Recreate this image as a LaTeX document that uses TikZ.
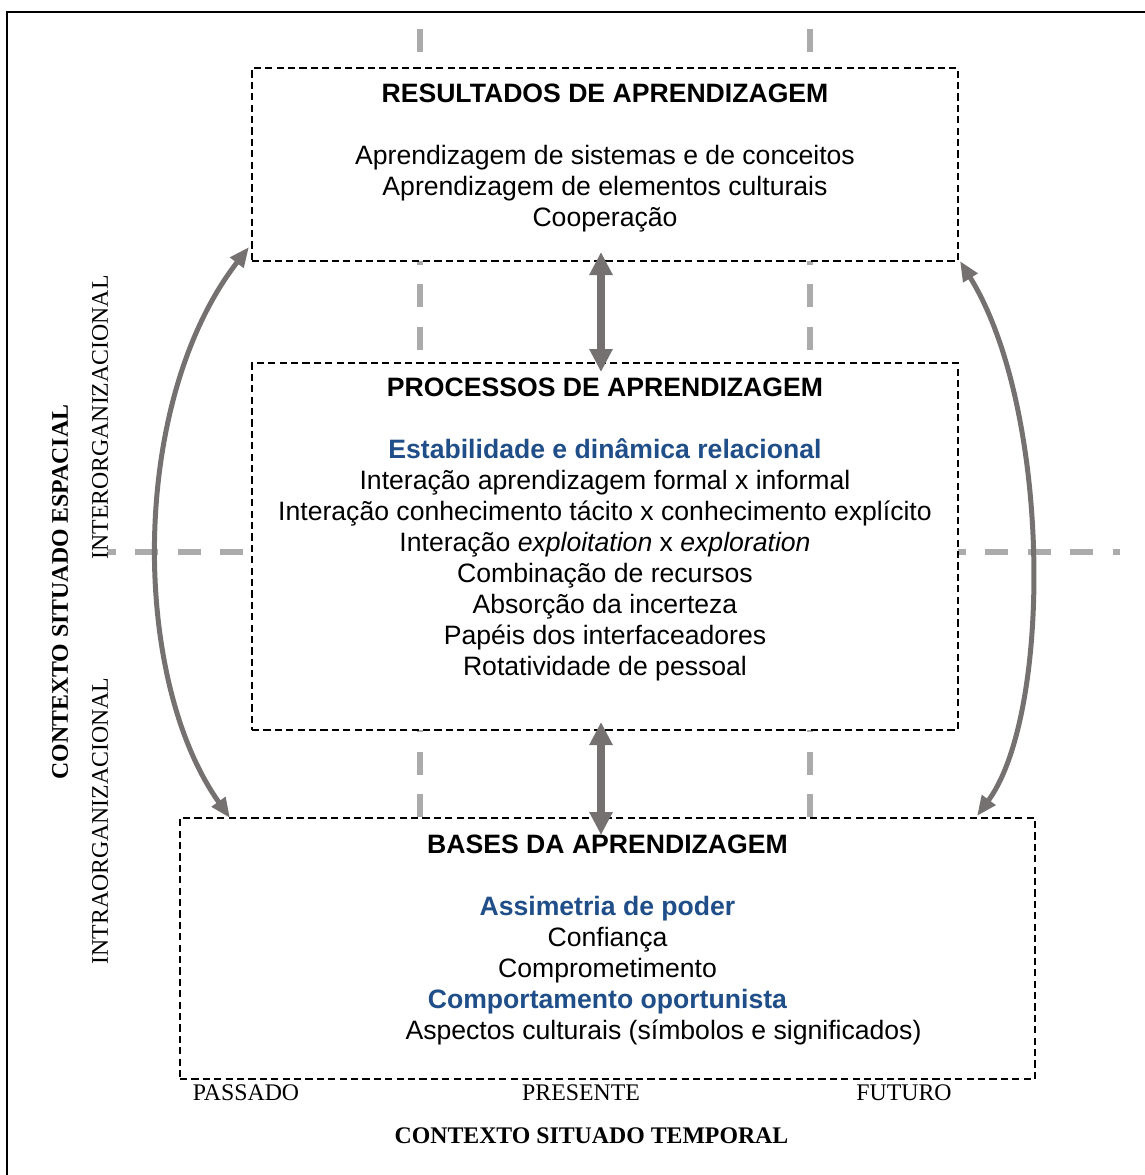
\documentclass[tikz,border=0pt]{standalone}
\usepackage{fontspec}
\setmainfont{Liberation Sans}
\newfontfamily\timesfont{Liberation Serif}
\usetikzlibrary{arrows.meta,positioning}
\definecolor{arrowgray}{RGB}{118,113,113}
\definecolor{guidegray}{RGB}{171,171,171}
\definecolor{titleblue}{RGB}{31,78,137}
\newcommand\bluehead[1]{\textcolor{titleblue}{\textbf{#1}}}
\tikzset{
    %Define standard arrow tip
    >={Triangle[length=10pt,width=8pt]},
    %Define style for boxes
    box/.style={
           rectangle,
           draw=black, line width=0.75pt,
           dash pattern=on 3.6pt off 2.1pt,
           fill=white,
           inner sep=0pt, outer sep=0pt},
    %Define style for box texts
    boxtext/.style={
           align=center,
           inner sep=0pt,
           font=\fontsize{13.3pt}{15.45pt}\selectfont},
    axislabel/.style={
           inner sep=0pt,
           font=\timesfont\fontsize{11.9pt}{14pt}\selectfont},
    % Define arrow style
    both/.style={
           <->,
           draw=arrowgray, line width=2.5pt},
    bothbig/.style={
           {Triangle[length=11.5pt,width=11pt]}-{Triangle[length=11.5pt,width=11pt]},
           draw=arrowgray, line width=4pt},
    guide/.style={
           draw=guidegray, line width=3pt,
           dash pattern=on 11.5pt off 9.75pt}
}
\begin{document}
\begin{tikzpicture}[x=0.5pt, y=-0.5pt]
 \useasboundingbox (0,0) rectangle (1145,1175);
 %frame
    \draw[line width=1.2pt] (7,1185) -- (7,12) -- (1155,12);
 %guides
    \draw[guide] (420,29) -- (420,1000);
    \draw[guide] (810,29) -- (810,1000);
    \draw[guide] (92.5,552) -- (1120,552);
 %boxes
    \node[box, minimum width=353pt, minimum height=96.5pt] (res) at (605,164.5) {};
    \node[box, minimum width=353pt, minimum height=183.5pt] (pro) at (605,546.5) {};
    \node[box, minimum width=427.5pt, minimum height=130.5pt] (bas) at (607.5,948.5) {};
 %texts
    \node[boxtext, anchor=north] (resT) at (605,84) {\textbf{RESULTADOS DE APRENDIZAGEM}\\[15.45pt]
        Aprendizagem de sistemas e de conceitos\\
        Aprendizagem de elementos culturais\\
        Cooperação};
    \node[boxtext, anchor=north] (proT) at (605,378) {\textbf{PROCESSOS DE APRENDIZAGEM}\\[15.45pt]
        \bluehead{Estabilidade e dinâmica relacional}\\
        Interação aprendizagem formal x informal\\
        Interação conhecimento tácito x conhecimento explícito\\
        Interação \textit{exploitation} x \textit{exploration}\\
        Combinação de recursos\\
        Absorção da incerteza\\
        Papéis dos interfaceadores\\
        Rotatividade de pessoal};
    \node[boxtext, anchor=north] (basT) at (607.5,835) {\textbf{BASES DA APRENDIZAGEM}\\[15.45pt]
        \bluehead{Assimetria de poder}\\
        Confiança\\
        Comprometimento\\
        \bluehead{Comportamento oportunista}\\
        \hspace*{56pt}Aspectos culturais (símbolos e significados)};
 %labels
    \node[axislabel, anchor=base] (past) at (246,1100) {PASSADO};
    \node[axislabel, anchor=base] (present) at (581,1100) {PRESENTE};
    \node[axislabel, anchor=base] (future) at (904,1100) {FUTURO};
    \node[axislabel, anchor=base] (temporal) at (591.5,1143) {\textbf{CONTEXTO SITUADO TEMPORAL}};
    \node[axislabel, rotate=90] (espacial) at (60,592) {\textbf{CONTEXTO SITUADO ESPACIAL}};
    \node[axislabel, rotate=90, fill=white] (inter) at (100,417.5) {INTERORGANIZACIONAL};
    \node[axislabel, rotate=90] (intra) at (100,821) {INTRAORGANIZACIONAL};
 %edges
    \draw[bothbig, shorten <=-4.5pt, shorten >=-4.5pt] ([xshift=-2pt]res.south) -- ([xshift=-2pt]pro.north);
    \draw[bothbig, shorten <=-4pt, shorten >=-8.5pt] ([xshift=-2pt]pro.south) -- ([xshift=-3.25pt]bas.north);
    \draw[both] ([shift={(-1.5pt,7pt)}]res.south west) .. controls (130,400) and (130,677) .. ([xshift=25pt]bas.north west);
    \draw[both] ([xshift=1pt]res.south east) .. controls (1052,410) and (1052,714) .. ([shift={(-29pt,1pt)}]bas.north east);
\end{tikzpicture}
\end{document}
